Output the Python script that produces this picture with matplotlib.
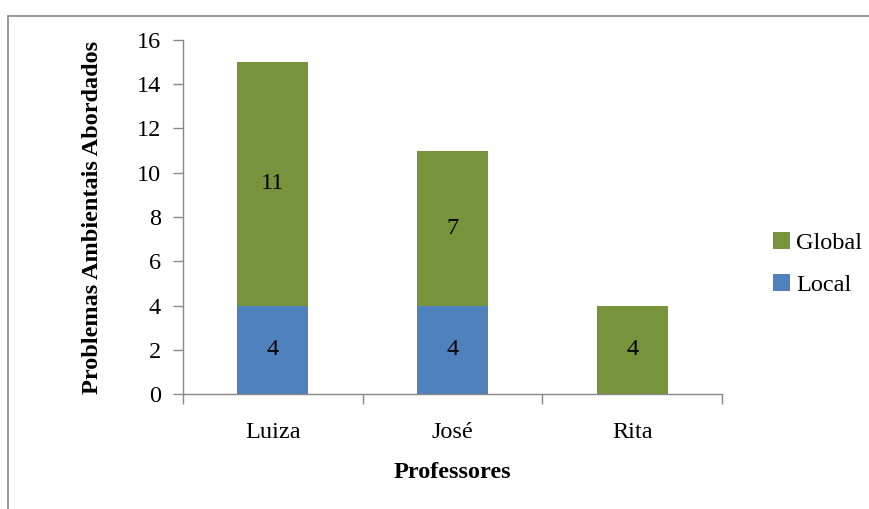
import matplotlib
matplotlib.use("Agg")
import matplotlib.pyplot as plt
from matplotlib.patches import Rectangle
import numpy as np

categories = ["Luiza", "José", "Rita"]
local_vals = [4, 4, 0]
global_vals = [11, 7, 4]
yticks = [0, 2, 4, 6, 8, 10, 12, 14, 16]

c_local = "#4F81BD"
c_global = "#77933C"
gray = "#888888"
FAM = ['Liberation Serif', 'DejaVu Serif']
FS = 17.5

plt.rcParams['font.family'] = FAM

W, H = 869, 509
fig = plt.figure(figsize=(W/100, H/100), dpi=100)

# outer frame (top and left visible)
fig.add_artist(Rectangle((8/W, -0.1), 1.2, (H-16)/H + 0.1, transform=fig.transFigure,
                         fill=False, edgecolor=gray, linewidth=1.2))

ax = fig.add_axes([183/W, 1-394/H, (722-183)/W, (394-40)/H])
x = np.arange(len(categories))
width = 0.395
ax.bar(x, local_vals, width, color=c_local, label="Local", zorder=2)
ax.bar(x, global_vals, width, bottom=local_vals, color=c_global, label="Global", zorder=2)

for i in range(len(categories)):
    if local_vals[i] > 0:
        ax.text(x[i], local_vals[i]/2, str(local_vals[i]), ha='center', va='center',
                fontsize=FS, family=FAM)
    if global_vals[i] > 0:
        ax.text(x[i], local_vals[i] + global_vals[i]/2, str(global_vals[i]),
                ha='center', va='center', fontsize=FS, family=FAM)

ax.set_xlim(-0.5, len(categories) - 0.5)
ax.set_ylim(0, 16)
ax.set_yticks(yticks)
ax.set_yticklabels([str(v) for v in yticks], fontsize=FS, family=FAM)
ax.set_xticks(x)
ax.set_xticklabels(categories, fontsize=FS, family=FAM)
ax.tick_params(axis='x', length=0, pad=20)
ax.set_xticks(np.arange(-0.5, len(categories)), minor=True)
ax.tick_params(axis='x', which='minor', length=7, color=gray, width=1)
ax.tick_params(axis='y', length=7, color=gray, width=1, pad=9)

for s in ['top', 'right']:
    ax.spines[s].set_visible(False)
for s in ['left', 'bottom']:
    ax.spines[s].set_color(gray)
    ax.spines[s].set_linewidth(1)

ax.set_ylabel("Problemas Ambientais Abordados", fontsize=FS, fontweight='bold',
              family=FAM, labelpad=24)
ax.set_xlabel("Professores", fontsize=FS, fontweight='bold', family=FAM, labelpad=14)

handles, labels = ax.get_legend_handles_labels()
leg = fig.legend(handles[::-1], labels[::-1], loc='center left',
                 bbox_to_anchor=(751/W, 1-264/H), frameon=False,
                 prop={'family': FAM, 'size': FS},
                 handlelength=0.7, handleheight=0.7, handletextpad=0.25, labelspacing=0.8)

fig.savefig("out.png", dpi=100)
